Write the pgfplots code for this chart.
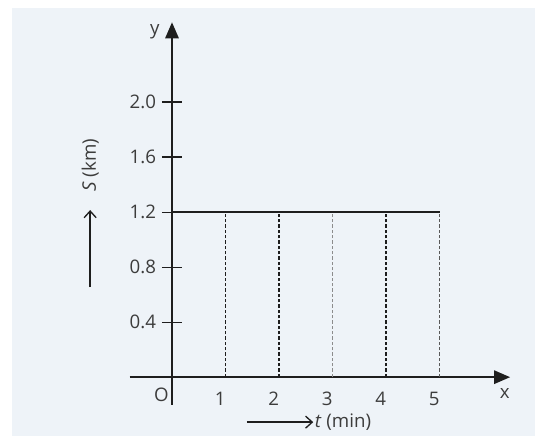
\documentclass[border=0pt]{standalone}
\usepackage{fontspec}
\setmainfont{Open Sans}
\usepackage{pgfplots}
\pgfplotsset{compat=1.18}
\usetikzlibrary{arrows.meta,backgrounds}
\definecolor{bgblue}{RGB}{238,243,248}
\definecolor{ink}{RGB}{30,30,30}
\definecolor{txt}{RGB}{60,60,60}
\newcommand{\lbl}{\fontsize{14}{16}\selectfont}
\begin{document}
\begin{tikzpicture}
\begin{axis}[
  x=40.1pt, y=103.1pt,
  axis lines=middle,
  xmin=-0.79, xmax=6.32, ymin=-0.2, ymax=2.58,
  clip=false,
  axis line style={ink, line width=1.4pt, -{Triangle[length=12pt,width=10pt]}},
  xtick={1,2,3,4,5},
  ytick={0.4,0.8,1.2,1.6,2.0},
  tick align=center,
  major tick length=15pt,
  x tick style={draw=none},
  y tick style={ink, line width=0.9pt},
  /pgf/number format/assume math mode=true,
  xticklabel style={font=\lbl, text=txt, xshift=-4pt},
  yticklabel style={font=\lbl, text=txt, xshift=-1pt,
    /pgf/number format/fixed, /pgf/number format/fixed zerofill,
    /pgf/number format/precision=1},
]
\addplot[ink, line width=1.3pt] coordinates {(0,1.2) (5,1.2)};
\addplot[ink, line width=1.2pt, dash pattern=on 2.5pt off 1.5pt] coordinates {(1,0) (1,1.2)};
\addplot[ink, line width=1.2pt, dash pattern=on 2.5pt off 1.5pt] coordinates {(2,0) (2,1.2)};
\addplot[black!45, line width=1.2pt, dash pattern=on 2.5pt off 1.5pt] coordinates {(3,0) (3,1.2)};
\addplot[ink, line width=1.2pt, dash pattern=on 2.5pt off 1.5pt] coordinates {(4,0) (4,1.2)};
\addplot[black!65, line width=1.2pt, dash pattern=on 2.5pt off 1.5pt] coordinates {(5,0) (5,1.2)};

\node[txt, font=\lbl] at (axis cs:-0.2,-0.13) {O};
\node[txt, font=\lbl] at (axis cs:-0.32,2.51) {y};
\node[txt, font=\lbl] at (axis cs:6.22,-0.12) {x};

\draw[ink, line width=1pt, -{Straight Barb[length=5pt,width=9pt]}] (axis cs:-1.53,0.655) -- (axis cs:-1.53,1.215);
\node[txt, font=\lbl, rotate=90] at (axis cs:-1.53,1.54) {\textit{S} (km)};
\draw[ink, line width=1pt, -{Straight Barb[length=5pt,width=9pt]}] (axis cs:1.40,-0.327) -- (axis cs:2.64,-0.327);
\node[txt, font=\lbl, anchor=west, inner sep=1pt] at (axis cs:2.64,-0.327) {\textit{t} (min)};

\coordinate (A) at (axis cs:-3.215,-0.429);
\coordinate (B) at (axis cs:6.785,2.742);
\coordinate (C) at (axis cs:-2.99,-0.429);
\coordinate (D) at (axis cs:6.785,2.684);
\end{axis}
\begin{scope}[on background layer]
\fill[white] (A) rectangle (B);
\fill[bgblue] (C) rectangle (D);
\end{scope}
\end{tikzpicture}
\end{document}
